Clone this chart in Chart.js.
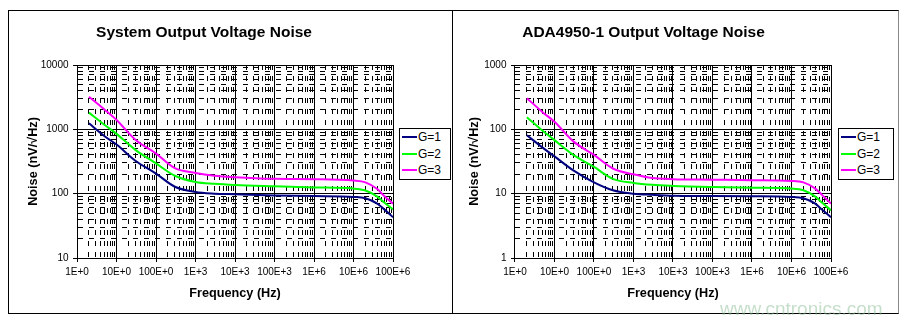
<!DOCTYPE html>
<html>
<head>
<meta charset="utf-8">
<script src="https://cdn.jsdelivr.net/npm/chart.js@4"></script>
<style>
  html, body { margin: 0; padding: 0; background: #fff; }
  body { width: 904px; height: 325px; position: relative; overflow: hidden; font-family: Arial, "Liberation Sans", sans-serif; }
  .frame { position: absolute; left: 8px; top: 10px; width: 889px; height: 302px; border: 1px solid #000; border-right-color: #888; }
  .divider { position: absolute; left: 452px; top: 10px; width: 1px; height: 304px; background: #000; }
  canvas { position: absolute; }
  .legend { position: absolute; border: 1px solid #000; background: #fff; font-size: 12px; color: #000; }
  .legend div { height: 16.7px; line-height: 16.7px; white-space: nowrap; }
  .legend span { display: inline-block; width: 15px; height: 2px; margin: 0 1px 0 2px; vertical-align: middle; position: relative; top: -1px; }
  .mark { position: absolute; left: 720px; top: 299px; font-size: 19px; line-height: 19px; color: rgba(140, 190, 150, 0.5); }
</style>
</head>
<body>
<div class="frame"></div>
<div class="divider"></div>
<canvas id="sys-chart" width="443" height="302" style="left:9px;top:11px"></canvas>
<canvas id="ada-chart" width="444" height="302" style="left:453px;top:11px"></canvas>
<div class="legend" id="sys-legend" style="left:399px;top:128px;width:50px;height:50px"></div>
<div class="legend" id="ada-legend" style="left:838px;top:128px;width:54px;height:50px"></div>
<div class="mark">www.cntronics.com</div>
<script>
// Частоты, Гц
const freqs = [2, 5, 10, 30, 100, 300, 1e3, 3e3, 1e4, 1e5, 1e6, 1e7, 2e7, 4e7, 6e7, 1e8];

// System Output Voltage Noise, nV/√Hz
const sysG1 = [1240, 780, 580, 325, 205, 128, 106, 100, 98, 94, 92, 89, 85, 70, 57, 43];
const sysG2 = [1820, 1170, 850, 480, 295, 190, 152, 142, 136, 130, 125, 120, 112, 90, 73, 57];
const sysG3 = [3200, 2020, 1400, 690, 420, 250, 210, 190, 180, 170, 168, 160, 150, 118, 92, 70];

// ADA4950-1 Output Voltage Noise, nV/√Hz
const adaG1 = [81, 52, 38, 23, 15, 11.3, 10, 9.6, 9.3, 9.2, 9.1, 8.9, 8.5, 7, 5.6, 4.3];
const adaG2 = [154, 95, 68, 40, 26, 17, 14.7, 13.7, 13.2, 12.7, 12.4, 12, 11.3, 9, 7.2, 5.5];
const adaG3 = [305, 185, 131, 65, 40, 24.6, 20, 17.5, 16.8, 16.5, 16.2, 15.8, 15, 12, 9.5, 7];

const seriesNames = ['G=1', 'G=2', 'G=3'];
const seriesColors = ['#000080', '#00ff00', '#ff00ff'];
const xTickLabels = ['1E+0', '10E+0', '100E+0', '1E+3', '10E+3', '100E+3', '1E+6', '10E+6', '100E+6'];

Chart.defaults.font.family = 'Arial, "Liberation Sans", sans-serif';
Chart.defaults.color = '#000';

function isDecade(v) {
    if (!v) return false;
    const e = Math.log10(v);
    return Math.abs(e - Math.round(e)) < 1e-9;
}

// Тики 1..9 на каждую декаду
function decadeTicks(min, max) {
    const ticks = [];
    for (let e = Math.round(Math.log10(min)); e <= Math.round(Math.log10(max)); e++) {
        for (let m = 1; m <= 9; m++) {
            const v = m * Math.pow(10, e);
            if (v <= max * 1.000001) ticks.push({ value: v });
        }
    }
    return ticks;
}

const gridOpts = {
    color: '#000',
    lineWidth: 1,
    tickLength: 4,
    tickColor: ctx => (ctx.tick && isDecade(ctx.tick.value)) ? '#000' : 'rgba(0,0,0,0)'
};
const borderOpts = {
    color: '#000',
    width: 1,
    dash: ctx => (ctx.tick && !isDecade(ctx.tick.value)) ? [5, 6] : []
};

function makeChart(id, data, yMin, yMax, pad) {
    const ctx = document.getElementById(id).getContext('2d');
    return new Chart(ctx, {
        type: 'line',
        data: {
            datasets: data.map((vals, i) => ({
                label: seriesNames[i],
                data: freqs.map((f, k) => ({ x: f, y: vals[k] })),
                borderColor: seriesColors[i],
                backgroundColor: seriesColors[i],
                borderWidth: 2,
                pointRadius: 0,
                cubicInterpolationMode: 'monotone',
                fill: false
            }))
        },
        options: {
            responsive: false,
            animation: false,
            devicePixelRatio: 1,
            layout: { padding: { left: pad.left, right: pad.right, top: 0, bottom: 6 } },
            plugins: {
                legend: { display: false },
                tooltip: { enabled: false },
                title: {
                    display: true,
                    text: pad.title,
                    font: { size: 15.5, weight: 'bold' },
                    padding: { top: 12.2, bottom: 23.2 }
                }
            },
            scales: {
                x: {
                    type: 'logarithmic',
                    min: 1,
                    max: 1e8,
                    afterBuildTicks: scale => { scale.ticks = decadeTicks(1, 1e8); },
                    ticks: {
                        autoSkip: false,
                        maxRotation: 0,
                        minRotation: 0,
                        padding: 4.7,
                        font: { size: 10 },
                        callback: v => isDecade(v) ? xTickLabels[Math.round(Math.log10(v))] : ''
                    },
                    grid: gridOpts,
                    border: borderOpts,
                    title: {
                        display: true,
                        text: 'Frequency (Hz)',
                        font: { size: 12.7, weight: 'bold' },
                        padding: { top: 2, bottom: 6.36 }
                    }
                },
                y: {
                    type: 'logarithmic',
                    min: yMin,
                    max: yMax,
                    afterBuildTicks: scale => { scale.ticks = decadeTicks(yMin, yMax); },
                    ticks: {
                        autoSkip: false,
                        padding: 4.5,
                        font: { size: 10 },
                        callback: v => isDecade(v) ? String(Math.round(v)) : ''
                    },
                    grid: gridOpts,
                    border: borderOpts,
                    title: {
                        display: true,
                        text: 'Noise (nV/√Hz)',
                        font: { size: 12.7, weight: 'bold' },
                        padding: { top: pad.yTop, bottom: pad.yBottom }
                    }
                }
            }
        }
    });
}

makeChart('sys-chart', [sysG1, sysG2, sysG3], 10, 10000,
    { left: 6, right: 59, yTop: 10.4, yBottom: -4.4, title: 'System Output Voltage Noise' });
makeChart('ada-chart', [adaG1, adaG2, adaG3], 1, 1000,
    { left: 3, right: 66, yTop: 10.4, yBottom: -1.9, title: 'ADA4950-1 Output Voltage Noise' });

// Легенда
['sys-legend', 'ada-legend'].forEach(id => {
    document.getElementById(id).innerHTML = seriesNames
        .map((name, i) => `<div><span style="background:${seriesColors[i]}"></span>${name}</div>`)
        .join('');
});
</script>
</body>
</html>
